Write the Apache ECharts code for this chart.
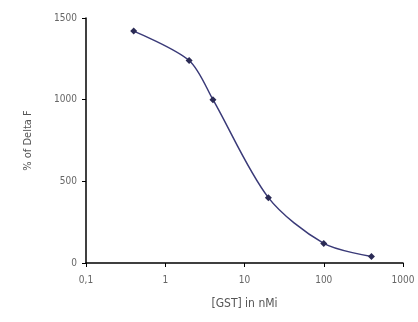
<!DOCTYPE html>
<html><head><meta charset="utf-8">
<script src="https://cdn.jsdelivr.net/npm/echarts@6/dist/echarts.min.js"></script>
<style>html,body{margin:0;padding:0;background:#fff}#c{width:418px;height:322px}</style>
</head><body><div id="c"></div>
<script>
const concentrations = [0.4, 2, 4, 20, 100, 400];
const deltaF = [1420, 1240, 1000, 400, 120, 40];
const xTitle = '[GST] in nMi';
const yTitle = '% of Delta F';

const FONT = '"Liberation Sans Narrow", "DejaVu Sans Condensed", "Liberation Sans", Arial, sans-serif';
const chart = echarts.init(document.getElementById('c'), null, {renderer: 'canvas'});
chart.setOption({
  animation: false,
  backgroundColor: '#fff',
  grid: {left: 86, right: 15, top: 18, bottom: 59, containLabel: false},
  xAxis: {
    type: 'log', logBase: 10, min: 0.1, max: 1000,
    name: xTitle, nameLocation: 'middle', nameGap: 35,
    nameTextStyle: {fontFamily: FONT, fontSize: 12, color: '#555'},
    axisLine: {lineStyle: {color: '#000', width: 1.5}},
    axisTick: {show: true, length: 4, lineStyle: {color: '#000'}},
    minorTick: {show: false},
    splitLine: {show: false},
    axisLabel: {fontFamily: FONT, fontSize: 10, color: '#666', margin: 12,
      formatter: v => String(+(+v).toPrecision(6)).replace('.', ',')}
  },
  yAxis: {
    type: 'value', min: 0, max: 1500, interval: 500,
    name: yTitle, nameLocation: 'middle', nameGap: 52, nameRotate: 90,
    nameTextStyle: {fontFamily: FONT, fontSize: 11, color: '#555'},
    axisLine: {show: true, lineStyle: {color: '#000', width: 1.5}},
    axisTick: {show: true, length: 4, lineStyle: {color: '#000'}},
    splitLine: {show: false},
    axisLabel: {fontFamily: FONT, fontSize: 10, color: '#666', margin: 9,
      formatter: v => String(v)}
  },
  series: [{
    type: 'line',
    data: concentrations.map((c, i) => [c, deltaF[i]]),
    smooth: 0.3,
    symbol: 'diamond', symbolSize: 7,
    itemStyle: {color: '#2b2b55'},
    lineStyle: {color: '#3a3a78', width: 1.5}
  }]
});
</script></body></html>
